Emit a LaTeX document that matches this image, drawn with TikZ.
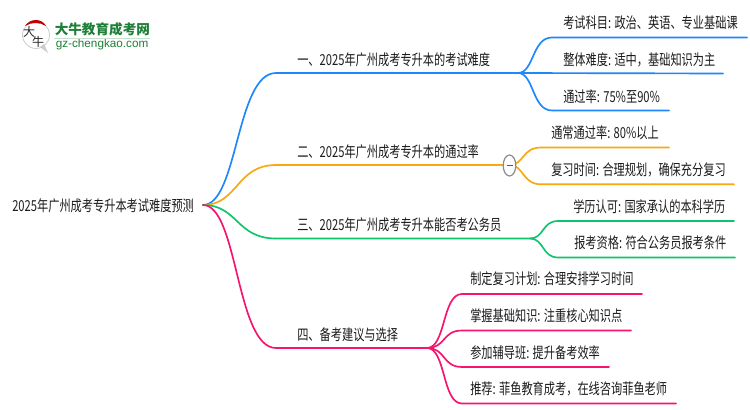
\documentclass[tikz,border=0pt]{standalone}
\usepackage{fontspec}
\setmainfont{Noto Sans CJK SC}[FakeStretch=0.74]
\newfontfamily\logofont{Noto Sans CJK SC}
\newfontfamily\lat{Liberation Sans}
\definecolor{cblue}{HTML}{1E87FA}
\definecolor{corange}{HTML}{F7A90F}
\definecolor{cgreen}{HTML}{0CC56C}
\definecolor{cpink}{HTML}{F5146E}
\definecolor{ctxt}{HTML}{1C1C1C}
\definecolor{cgreenlogo}{HTML}{1E7F38}
\tikzset{x=0.75pt,y=-0.75pt,
  lab/.style={inner sep=0pt,anchor=west,text=ctxt,font=\fontsize{11.35pt}{12pt}\selectfont,text height=8.6pt,text depth=0pt},
  conn/.style={line width=1.25pt,line cap=round}}
\begin{document}
\begin{tikzpicture}
\useasboundingbox (0,0) rectangle (750,410);
\fill[white] (0,0) rectangle (750,410);
% root
\node[lab] (root) at (12,206) {2025年广州成考专升本考试难度预测};
\coordinate (r) at (203,205);
% branch nodes
\node[lab] (a) at (297,60) {一、2025年广州成考专升本的考试难度};
\node[lab] (b) at (297,151.5) {二、2025年广州成考专升本的通过率};
\node[lab] (c) at (297,225) {三、2025年广州成考专升本能否考公务员};
\node[lab] (d) at (297,335) {四、备考建议与选择};
% leaves
\node[lab] (a1) at (563,23) {考试科目: 政治、英语、专业基础课};
\node[lab] (a2) at (563,60) {整体难度: 适中，基础知识为主};
\node[lab] (a3) at (563,97) {通过率: 75\%至90\%};
\node[lab] (b1) at (551,133) {通常通过率: 80\%以上};
\node[lab] (b2) at (551,170) {复习时间: 合理规划，确保充分复习};
\node[lab] (c1) at (573,206.5) {学历认可: 国家承认的本科学历};
\node[lab] (c2) at (574,243) {报考资格: 符合公务员报考条件};
\node[lab] (d1) at (470,279) {制定复习计划: 合理安排学习时间};
\node[lab] (d2) at (470,316) {掌握基础知识: 注重核心知识点};
\node[lab] (d3) at (470,353) {参加辅导班: 提升备考效率};
\node[lab] (d4) at (470,389) {推荐: 菲鱼教育成考，在线咨询菲鱼老师};
% coordinates
\coordinate (aE) at (518,73);
\coordinate (bE) at (509.5,165);
\coordinate (cE) at (530,238.5);
\coordinate (dE) at (427,348);
\coordinate (a1E) at (747,37.5);
\coordinate (a2E) at (723,73.5);
\coordinate (a3E) at (669,110.5);
\coordinate (b1E) at (669,147.5);
\coordinate (b2E) at (734,184.3);
\coordinate (c1E) at (734,221);
\coordinate (c2E) at (735,257.5);
\coordinate (d1E) at (642,294);
\coordinate (d2E) at (631,330.5);
\coordinate (d3E) at (609,367);
\coordinate (d4E) at (676,403.5);
% root connectors
\draw[conn,cblue] (r) .. controls (238,205) and (236,73) .. (276,73) -- (aE);
\draw[conn,corange] (r) .. controls (238,205) and (236,165) .. (276,165) -- (bE);
\draw[conn,cgreen] (r) .. controls (238,205) and (236,238.5) .. (276,238.5) -- (cE);
\draw[conn,cpink] (r) .. controls (238,205) and (236,348) .. (276,348) -- (dE);
% branch a
\draw[conn,cblue] (aE) .. controls (534,73) and (532,37.5) .. (552,37.5) -- (a1E);
\draw[conn,cblue] (aE) -- (a2E);
\draw[conn,cblue] (aE) .. controls (534,73) and (532,110.5) .. (552,110.5) -- (a3E);
% branch b
\draw[conn,corange] (bE) .. controls (524,165) and (522,147.5) .. (541,147.5) -- (b1E);
\draw[conn,corange] (bE) .. controls (524,165) and (522,184.3) .. (541,184.3) -- (b2E);
% branch c
\draw[conn,cgreen] (cE) .. controls (544,238.5) and (542,221) .. (558,221) -- (c1E);
\draw[conn,cgreen] (cE) .. controls (544,238.5) and (542,257.5) .. (558,257.5) -- (c2E);
% branch d
\draw[conn,cpink] (dE) .. controls (446,348) and (442,294) .. (462,294) -- (d1E);
\draw[conn,cpink] (dE) .. controls (446,348) and (442,330.5) .. (462,330.5) -- (d2E);
\draw[conn,cpink] (dE) .. controls (446,348) and (442,367) .. (462,367) -- (d3E);
\draw[conn,cpink] (dE) .. controls (446,348) and (442,403.5) .. (462,403.5) -- (d4E);
% collapse button
\fill[white,draw=black!45,line width=0.9pt] (509.5,165.5) ellipse [x radius=6.3,y radius=10.5];
\draw[black!65,line width=0.8pt] (506.5,165.5) -- (512.5,165.5);
% logo
\fill[white,draw=black!20,line width=0.6pt] (36,35) circle (13.5);
\fill[black!20] (40,47) -- (48,53) -- (44,44) -- cycle;
\fill[red!75!black] (25,26) .. controls (30,18) and (42,18) .. (46,26) .. controls (40,22) and (31,22) .. (25,26) -- cycle;
\node[inner sep=0pt,text=black!85,font=\fontsize{9pt}{10pt}\logofont\selectfont] (l1) at (29,32) {大};
\node[inner sep=0pt,text=black!85,font=\fontsize{9pt}{10pt}\logofont\selectfont] (l2) at (38,42) {牛};
\node[inner sep=0pt,anchor=west,text=cgreenlogo,font=\fontsize{10.2pt}{10pt}\logofont\bfseries\selectfont] (l3) at (54.5,29.5) {大牛教育成考网};
\node[inner sep=0pt,anchor=west,text=cgreenlogo,font=\fontsize{8.8pt}{9pt}\lat\selectfont] (l4) at (55.5,44.5) {gz-chengkao.com};
\draw[cgreenlogo!25,line width=0.5pt] (54,38.5) -- (150,38.5);
\end{tikzpicture}
\end{document}
